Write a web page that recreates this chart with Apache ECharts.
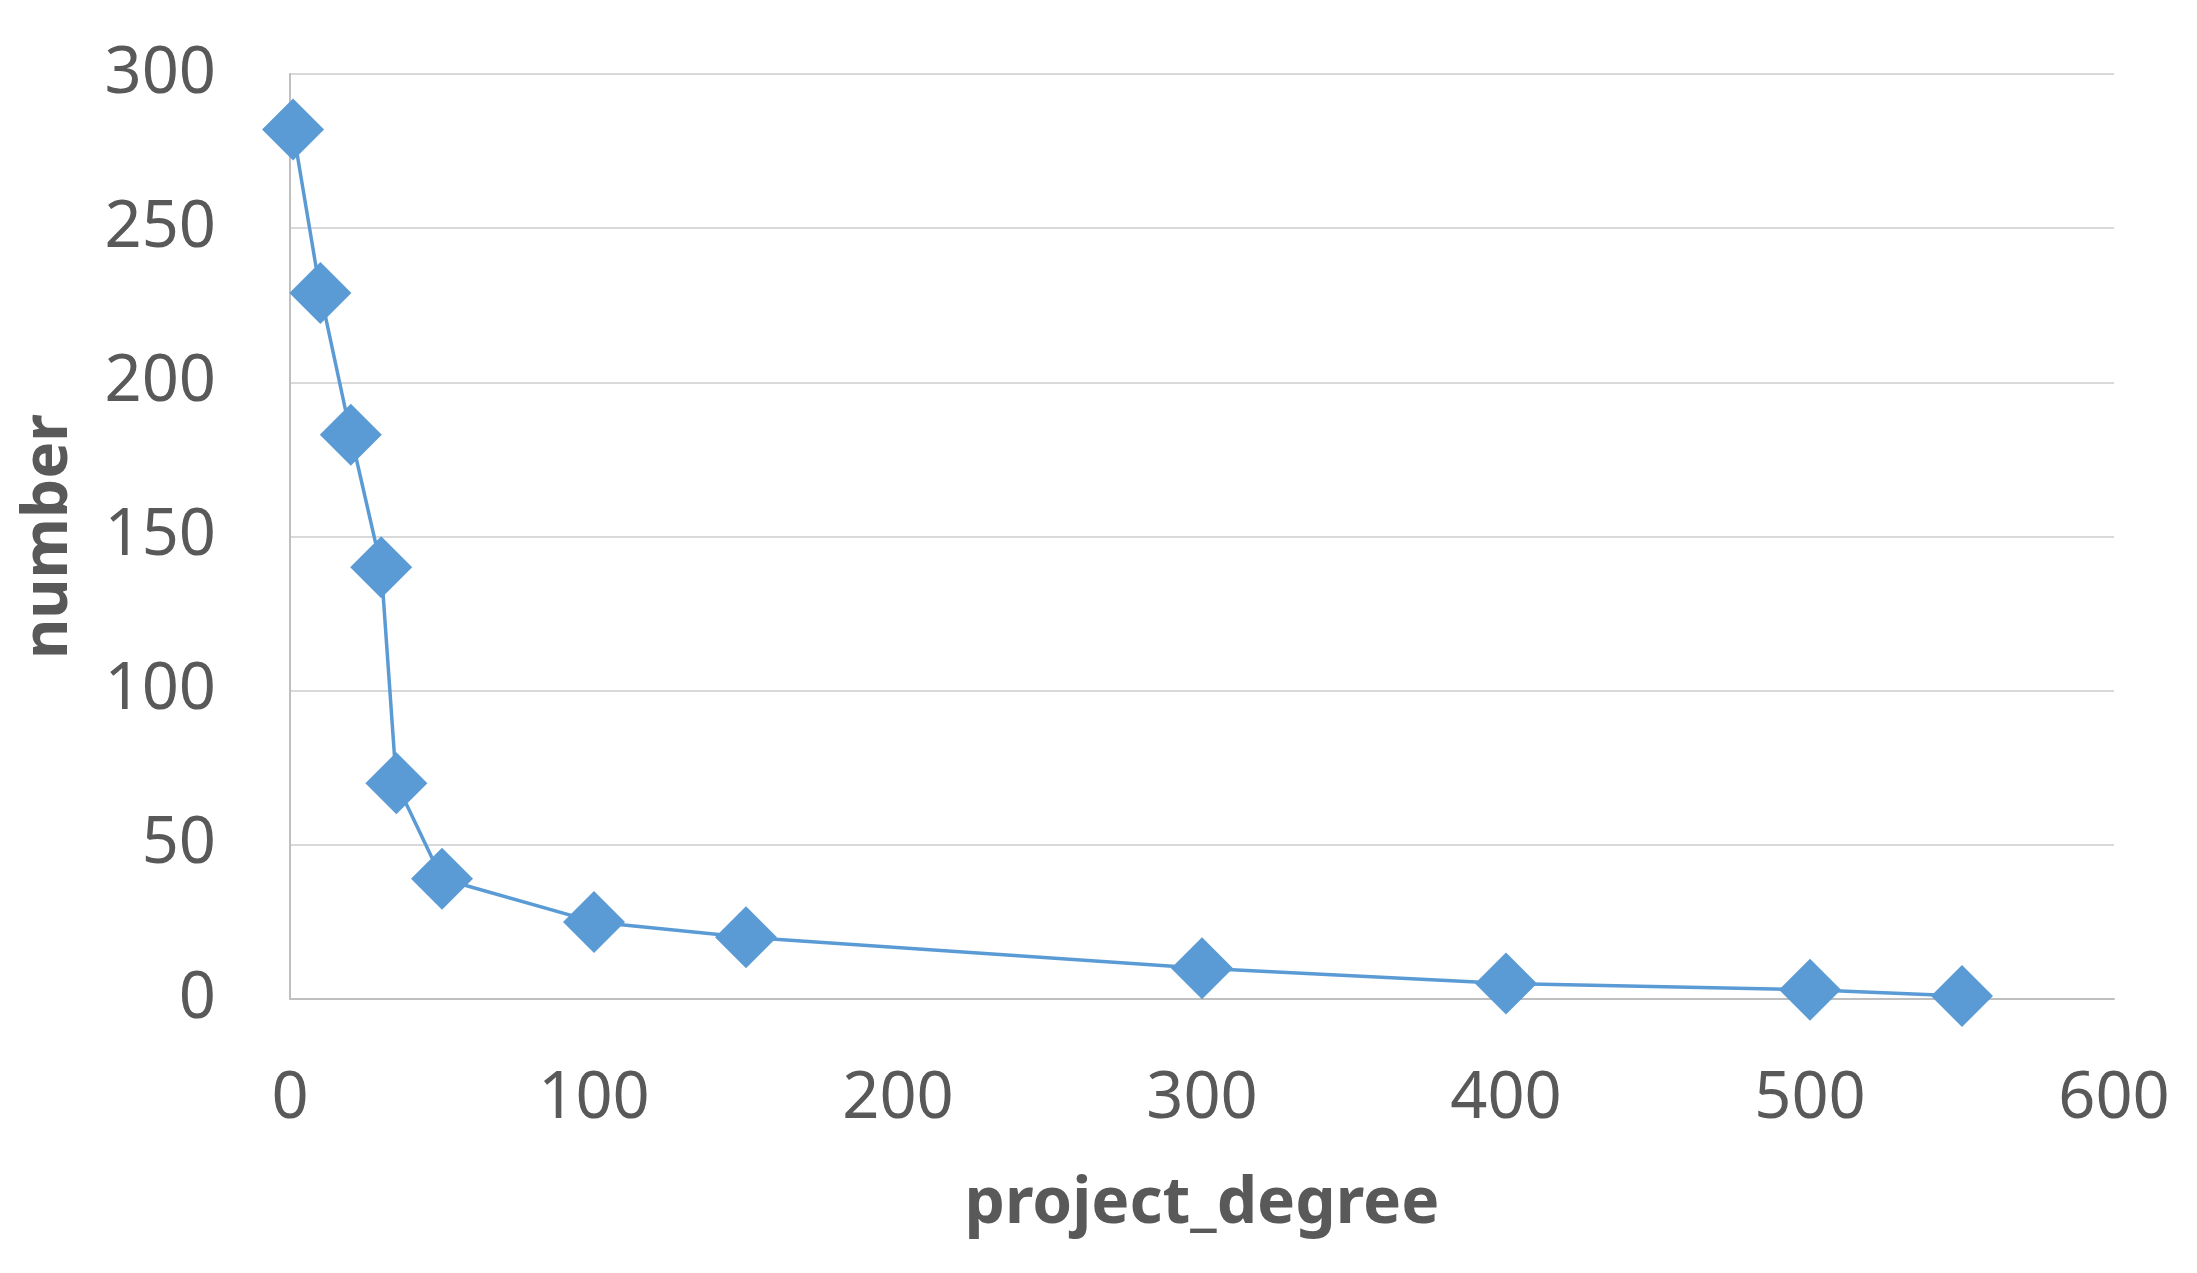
<!DOCTYPE html>
<html>
<head>
<meta charset="utf-8">
<script src="https://cdn.jsdelivr.net/npm/echarts@6/dist/echarts.min.js"></script>
<style>
html,body{margin:0;padding:0;background:#fff;}
#chart{width:2197px;height:1273px;}
</style>
</head>
<body>
<div id="chart"></div>
<script>
var degrees = [1, 10, 20, 30, 35, 50, 100, 150, 300, 400, 500, 550];
var counts = [282, 229, 183, 140, 70, 39, 25, 20, 10, 5, 3, 1];
var xAxisName = 'project_degree';
var yAxisName = 'number';

var points = degrees.map(function (d, i) { return [d, counts[i]]; });

var chart = echarts.init(document.getElementById('chart'));
chart.setOption({
  animation: false,
  backgroundColor: '#ffffff',
  grid: { left: 290, right: 83, top: 74, bottom: 274 },
  xAxis: {
    type: 'value', min: 0, max: 600, interval: 100,
    name: xAxisName, nameLocation: 'middle', nameGap: 174,
    nameTextStyle: { fontFamily: 'Noto Sans', fontWeight: 'bold', fontSize: 64, color: '#595959' },
    axisLine: { show: true, lineStyle: { color: '#BFBFBF', width: 2 } },
    axisTick: { show: false },
    splitLine: { show: false },
    axisLabel: { fontFamily: 'Noto Sans', fontSize: 65, color: '#595959', margin: 68 }
  },
  yAxis: {
    type: 'value', min: 0, max: 300, interval: 50,
    name: yAxisName, nameLocation: 'middle', nameGap: 210,
    nameTextStyle: { fontFamily: 'Noto Sans', fontWeight: 'bold', fontSize: 62, color: '#595959' },
    axisLine: { show: true, lineStyle: { color: '#BFBFBF', width: 2 } },
    axisTick: { show: false },
    splitLine: { show: true, lineStyle: { color: '#D9D9D9', width: 2 } },
    axisLabel: { fontFamily: 'Noto Sans', fontSize: 65, color: '#595959', margin: 74 }
  },
  series: [{
    type: 'line',
    data: points,
    symbol: 'diamond',
    symbolSize: 62,
    itemStyle: { color: '#5B9BD5' },
    lineStyle: { color: '#5B9BD5', width: 3.5 }
  }]
});
</script>
</body>
</html>
